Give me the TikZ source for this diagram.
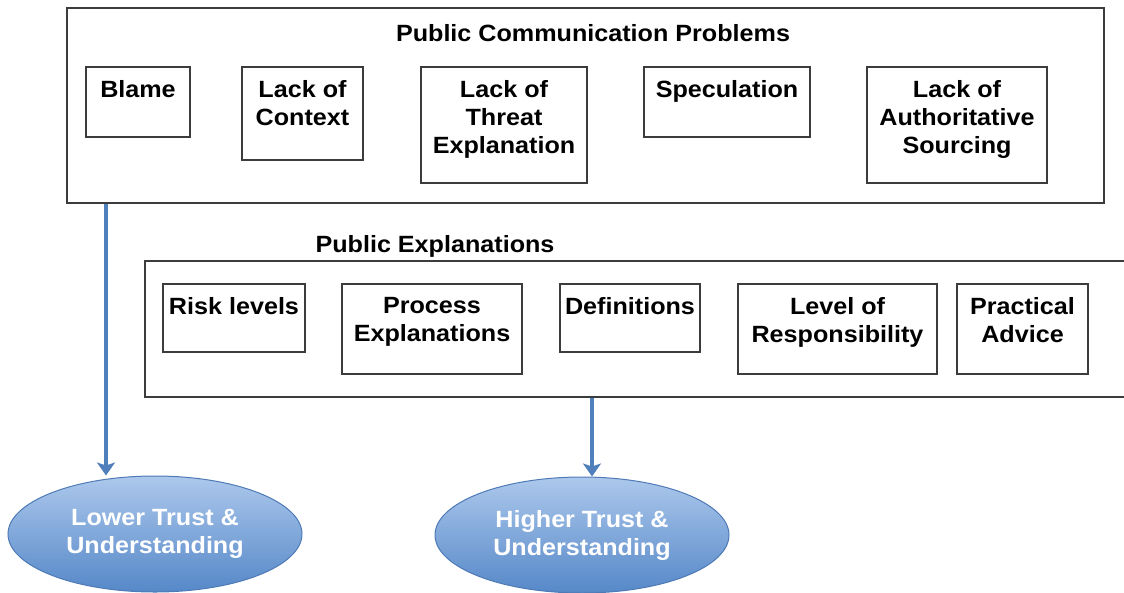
\documentclass[tikz,border=0pt]{standalone}
\usepackage{fontspec}
\setmainfont[FakeStretch=1.07]{Liberation Sans}
\usetikzlibrary{shapes.geometric,arrows.meta}
\definecolor{boxline}{RGB}{60,60,60}
\definecolor{arrblue}{RGB}{80,128,188}
\definecolor{elltop}{RGB}{172,200,236}
\definecolor{ellbot}{RGB}{86,136,200}
\definecolor{ellline}{RGB}{78,122,182}
\tikzset{
  inbox/.style={draw=boxline,line width=1.3pt,inner sep=0pt},
  lbl/.style={font=\fontsize{23.5}{28}\selectfont\bfseries,align=center,anchor=north,inner sep=0pt},
  ttl/.style={font=\fontsize{23.5}{28}\selectfont\bfseries,inner sep=0pt},
  res/.style={ellipse,draw=ellline,line width=1pt,top color=elltop,bottom color=ellbot,
    minimum width=294pt,minimum height=116pt,inner sep=0pt,text=white,
    font=\fontsize{23.5}{28}\selectfont\bfseries,align=center},
  arr/.style={draw=arrblue,line width=4pt,-{Stealth[length=13pt,width=18pt,inset=3pt]}}
}
\newcommand{\boxat}[6]{%
  \node[inbox,minimum width={#4-#2},minimum height={#5-#3}] (#1) at ({(#2+#4)/2},{(#3+#5)/2}) {};
  \node[lbl] (#1t) at ([yshift=-14pt]#1.north) {#6};}
\begin{document}
\begin{tikzpicture}[x=1pt,y=-1pt]
\useasboundingbox (0,0) rectangle (1124,592);
% top box
\node[draw=boxline,line width=1.3pt,inner sep=0pt,minimum width=1037pt,minimum height=195pt] (top) at (585.5,105.5) {};
\node[ttl,anchor=base] (toptitle) at (593,41) {Public Communication Problems};
\boxat{blame}{86}{67}{190}{137}{Blame}
\boxat{context}{242}{67}{363}{160}{Lack of\\Context}
\boxat{threat}{421}{67}{587}{183}{Lack of\\Threat\\Explanation}
\boxat{spec}{644}{67}{810}{137}{Speculation}
\boxat{auth}{867}{67}{1047}{183}{Lack of\\Authoritative\\Sourcing}
% second box
\node[draw=boxline,line width=1.3pt,inner sep=0pt,minimum width=995pt,minimum height=136pt] (expl) at (642.5,329) {};
\node[ttl,anchor=base] (expltitle) at (435,252) {Public Explanations};
\boxat{risk}{163}{284}{305}{352}{Risk levels}
\boxat{process}{342}{284}{522}{374}{Process\\Explanations}
\boxat{defs}{560}{284}{700}{352}{Definitions}
\boxat{resp}{738}{284}{937}{374}{Level of\\Responsibility}
\boxat{advice}{957}{284}{1088}{374}{Practical\\Advice}
% ellipses
\node[res] (lower) at (155,534) {Lower Trust \&\\Understanding};
\node[res] (higher) at (582,535) {Higher Trust \&\\Understanding};
% arrows
\coordinate (a1) at (106,0);
\coordinate (a2) at (592,0);
\draw[arr] (a1 |- top.south) -- (a1 |- lower.north);
\draw[arr] (a2 |- expl.south) -- (a2 |- higher.north);
\end{tikzpicture}
\end{document}
